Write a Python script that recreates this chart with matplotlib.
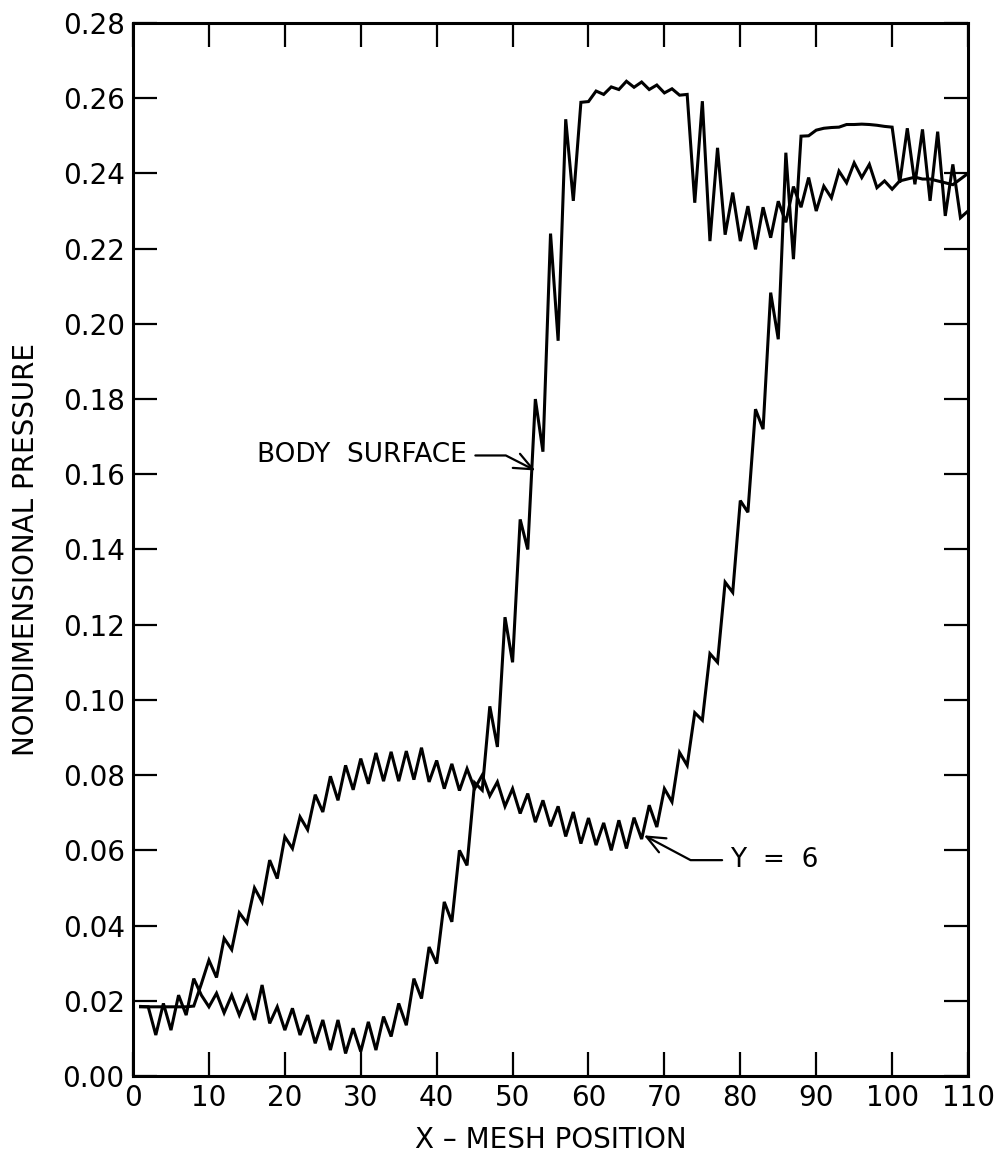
import numpy as np
import matplotlib
matplotlib.use("Agg")
import matplotlib.pyplot as plt
from matplotlib.ticker import MultipleLocator, FormatStrFormatter

# mesh positions along x
mesh = np.arange(1, 111)

# pressure on the body surface
body_surface = [
    0.0185, 0.0184, 0.0109, 0.0193, 0.0122, 0.0215, 0.0162, 0.0259, 0.0215, 0.0184,
    0.0220, 0.0168, 0.0215, 0.0162, 0.0211, 0.0149, 0.0242, 0.0140, 0.0184, 0.0122,
    0.0180, 0.0109, 0.0162, 0.0087, 0.0149, 0.0069, 0.0149, 0.0060, 0.0127, 0.0065,
    0.0144, 0.0069, 0.0158, 0.0105, 0.0193, 0.0135, 0.0259, 0.0206, 0.0343, 0.0299,
    0.0463, 0.0410, 0.0600, 0.0560, 0.0780, 0.0760, 0.0983, 0.0875, 0.1220, 0.1100,
    0.1480, 0.1400, 0.1800, 0.1660, 0.2240, 0.1955, 0.2544, 0.2327, 0.2589, 0.2591,
    0.2619, 0.2610, 0.2630, 0.2623, 0.2645, 0.2629, 0.2643, 0.2623, 0.2635, 0.2614,
    0.2625, 0.2608, 0.2610, 0.2322, 0.2592, 0.2220, 0.2468, 0.2237, 0.2349, 0.2220,
    0.2313, 0.2198, 0.2310, 0.2229, 0.2326, 0.2270, 0.2365, 0.2310, 0.2389, 0.2300,
    0.2366, 0.2335, 0.2406, 0.2375, 0.2428, 0.2389, 0.2424, 0.2362, 0.2380, 0.2358,
    0.2380, 0.2385, 0.2390, 0.2385, 0.2385, 0.2380, 0.2375, 0.2370, 0.2385, 0.2400,
]

# pressure along the mesh line Y = 6
y_equals_6 = [
    0.0184, 0.0184, 0.0184, 0.0184, 0.0184, 0.0184, 0.0184, 0.0186, 0.0245, 0.0308,
    0.0262, 0.0366, 0.0336, 0.0434, 0.0407, 0.0500, 0.0463, 0.0574, 0.0525, 0.0636,
    0.0605, 0.0689, 0.0655, 0.0748, 0.0702, 0.0797, 0.0733, 0.0826, 0.0761, 0.0844,
    0.0777, 0.0859, 0.0784, 0.0862, 0.0784, 0.0864, 0.0788, 0.0873, 0.0782, 0.0839,
    0.0764, 0.0830, 0.0759, 0.0817, 0.0764, 0.0800, 0.0745, 0.0782, 0.0717, 0.0764,
    0.0698, 0.0751, 0.0675, 0.0733, 0.0664, 0.0717, 0.0637, 0.0702, 0.0618, 0.0686,
    0.0614, 0.0673, 0.0600, 0.0680, 0.0605, 0.0687, 0.0630, 0.0720, 0.0662, 0.0764,
    0.0729, 0.0860, 0.0826, 0.0966, 0.0946, 0.1123, 0.1100, 0.1313, 0.1286, 0.1530,
    0.1499, 0.1773, 0.1720, 0.2083, 0.1959, 0.2455, 0.2172, 0.2499, 0.2500, 0.2515,
    0.2520, 0.2522, 0.2523, 0.2530, 0.2530, 0.2531, 0.2530, 0.2528, 0.2525, 0.2523,
    0.2375, 0.2520, 0.2371, 0.2517, 0.2327, 0.2511, 0.2287, 0.2424, 0.2282, 0.2300,
]

plt.rcParams['font.family'] = ['DejaVu Sans']

fig = plt.figure(figsize=(9.95, 11.6), dpi=100)
ax = fig.add_axes([0.1337, 0.0724, 0.8392, 0.9078])

ax.plot(mesh, body_surface, color='black', lw=2.2, solid_joinstyle='miter')
ax.plot(mesh, y_equals_6, color='black', lw=2.2, solid_joinstyle='miter')

ax.set_xlim(0, 110)
ax.set_ylim(0, 0.28)
ax.xaxis.set_major_locator(MultipleLocator(10))
ax.yaxis.set_major_locator(MultipleLocator(0.02))
ax.yaxis.set_major_formatter(FormatStrFormatter('%.2f'))

ax.tick_params(direction='in', length=17, width=1.6, top=True, right=True,
               labelsize=20, pad=6)
for s in ax.spines.values():
    s.set_linewidth(2.2)

ax.set_xlabel('X \u2013 MESH POSITION', fontsize=20, labelpad=10)
ax.set_ylabel('NONDIMENSIONAL PRESSURE', fontsize=20, labelpad=16)

# curve labels with leader arrows
arrow = dict(arrowstyle='->,head_length=0.7,head_width=0.3', lw=1.6, color='black',
             shrinkA=4, shrinkB=0)
ax.annotate('BODY  SURFACE', xy=(53.0, 0.161), xytext=(44.0, 0.165),
            ha='right', va='center', fontsize=19,
            arrowprops=dict(arrow, connectionstyle='angle,angleA=0,angleB=153,rad=0'))
ax.annotate('Y  =  6', xy=(67.3, 0.064), xytext=(78.7, 0.0574),
            ha='left', va='center', fontsize=19,
            arrowprops=dict(arrow, connectionstyle='angle,angleA=180,angleB=-28,rad=0'))

fig.savefig('out.png', dpi=100)
